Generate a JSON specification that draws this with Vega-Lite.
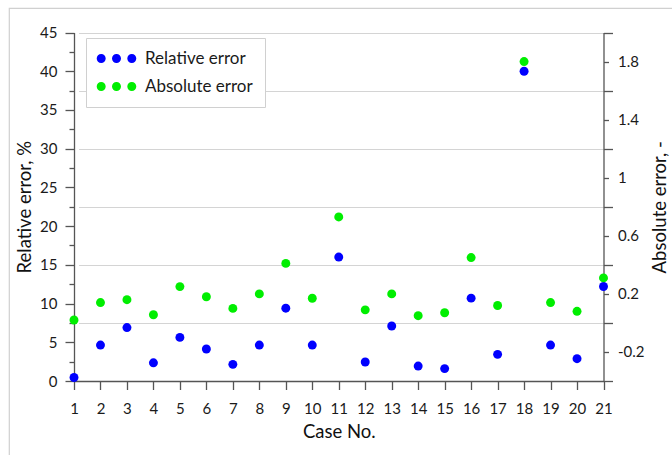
{
  "$schema": "https://vega.github.io/schema/vega-lite/v6.json",
  "width": 664,
  "height": 448,
  "autosize": {"type": "none"},
  "padding": {"left": 9, "top": 8, "right": -1, "bottom": -1},
  "background": "white",
  "view": {"stroke": "#d0d0d0", "strokeWidth": 1.2},
  "config": {
    "view": {"stroke": "#d0d0d0", "strokeWidth": 1.2},
    "font": "Lato",
    "axis": {
      "labelFont": "Lato",
      "labelFontSize": 15,
      "labelColor": "#1a1a1a",
      "titleFont": "Lato",
      "titleFontSize": 18.5,
      "titleFontWeight": "normal",
      "titleColor": "#111111",
      "domainColor": "#555555",
      "tickColor": "#555555",
      "domainWidth": 1.3,
      "tickWidth": 1.3
    }
  },
  "data": {
    "values": [
      {"case": 1, "rel": 0.45, "abs": 0.02},
      {"case": 2, "rel": 4.64, "abs": 0.14},
      {"case": 3, "rel": 6.9, "abs": 0.16},
      {"case": 4, "rel": 2.35, "abs": 0.056},
      {"case": 5, "rel": 5.63, "abs": 0.25},
      {"case": 6, "rel": 4.13, "abs": 0.18},
      {"case": 7, "rel": 2.15, "abs": 0.1},
      {"case": 8, "rel": 4.64, "abs": 0.2},
      {"case": 9, "rel": 9.4, "abs": 0.41},
      {"case": 10, "rel": 4.64, "abs": 0.17},
      {"case": 11, "rel": 16.0, "abs": 0.73},
      {"case": 12, "rel": 2.45, "abs": 0.09},
      {"case": 13, "rel": 7.1, "abs": 0.2},
      {"case": 14, "rel": 1.93, "abs": 0.05},
      {"case": 15, "rel": 1.6, "abs": 0.07},
      {"case": 16, "rel": 10.7, "abs": 0.45},
      {"case": 17, "rel": 3.44, "abs": 0.12},
      {"case": 18, "rel": 40.0, "abs": 1.8},
      {"case": 19, "rel": 4.64, "abs": 0.14},
      {"case": 20, "rel": 2.88, "abs": 0.08},
      {"case": 21, "rel": 12.2, "abs": 0.31}
    ]
  },
  "encoding": {
    "x": {
      "field": "case",
      "type": "quantitative",
      "scale": {"domain": [1, 21], "range": [65, 594.5], "nice": false, "zero": false},
      "axis": {
        "orient": "bottom",
        "offset": -75,
        "values": [1,2,3,4,5,6,7,8,9,10,11,12,13,14,15,16,17,18,19,20,21],
        "tickSize": 8.5,
        "labelPadding": 12,
        "labelFlush": false,
        "labelOverlap": false,
        "grid": false,
        "title": "Case No.",
        "titlePadding": 6
      }
    },
    "color": {
      "datum": "Relative error",
      "type": "nominal",
      "scale": {"domain": ["Relative error", "Absolute error"], "range": ["#0000ff", "#00ee00"]},
      "legend": {
        "title": null,
        "orient": "none",
        "legendX": 77,
        "legendY": 30,
        "strokeColor": "#d0d0d0",
        "fillColor": "white",
        "padding": 12,
        "rowPadding": 10,
        "symbolType": "M-4.4,0a1,1 0 1,0 2,0a1,1 0 1,0 -2,0M-1,0a1,1 0 1,0 2,0a1,1 0 1,0 -2,0M2.4,0a1,1 0 1,0 2,0a1,1 0 1,0 -2,0",
        "symbolSize": 81,
        "symbolOffset": 10,
        "symbolStrokeWidth": 0,
        "labelOffset": 20,
        "labelFont": "Lato",
        "labelFontSize": 17,
        "labelColor": "#1a1a1a"
      }
    }
  },
  "layer": [
    {
      "mark": {"type": "point", "filled": true, "size": 80, "opacity": 1, "strokeWidth": 0},
      "encoding": {
        "y": {
          "field": "rel",
          "type": "quantitative",
          "scale": {"domain": [0, 45], "range": [373, 24.5], "nice": false, "zero": true},
          "axis": {
            "orient": "left",
            "offset": -65,
            "values": [0,2.5,5,7.5,10,12.5,15,17.5,20,22.5,25,27.5,30,32.5,35,37.5,40,42.5,45],
            "labelExpr": "datum.value % 5 == 0 ? datum.label : ''",
            "tickSize": {"condition": {"test": "datum.value % 5 == 0", "value": 9}, "value": 5},
            "labelPadding": 8,
            "grid": false,
            "title": "Relative error, %",
            "titlePadding": 5
          }
        },
        "color": {"datum": "Relative error", "type": "nominal"}
      }
    },
    {
      "mark": {"type": "point", "filled": true, "size": 80, "opacity": 1, "strokeWidth": 0},
      "encoding": {
        "y": {
          "field": "abs",
          "type": "quantitative",
          "scale": {"domain": [-0.4, 2.0], "range": [373, 24.5], "nice": false, "zero": false},
          "axis": {
            "orient": "right",
            "offset": -69.5,
            "values": [-0.4,-0.2,0,0.2,0.4,0.6,0.8,1,1.2,1.4,1.6,1.8,2],
            "labelExpr": "abs(round(datum.value*10)) % 4 == 2 ? replace(format(datum.value, '.1~f'), '\u2212', '-') : ''",
            "tickSize": {"condition": {"test": "abs(round(datum.value*10)) % 4 == 0", "value": 9}, "value": 5},
            "labelPadding": 9,
            "grid": true,
            "gridColor": "#d4d4d4",
            "gridWidth": 1,
            "gridOpacity": {"condition": {"test": "abs(round(datum.value*10)) % 4 == 0", "value": 1}, "value": 0},
            "title": "Absolute error, -",
            "titleAngle": -90,
            "titlePadding": 25
          }
        },
        "color": {"datum": "Absolute error", "type": "nominal"}
      }
    }
  ],
  "resolve": {"scale": {"y": "independent"}}
}
